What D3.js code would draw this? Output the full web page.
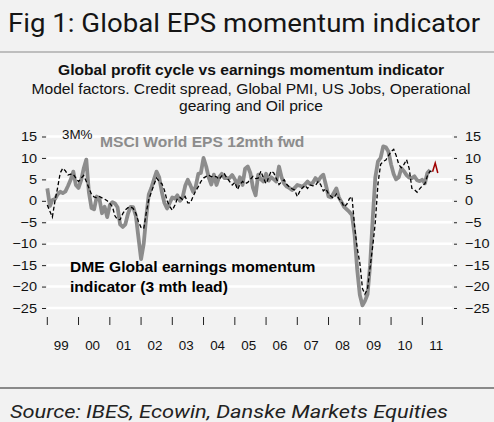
<!DOCTYPE html>
<html>
<head>
<meta charset="utf-8">
<script src="https://cdn.jsdelivr.net/npm/d3@7"></script>
<style>
  body { margin: 0; background: #f2f2f2; }
  svg { display: block; }
</style>
</head>
<body>
<div id="chart"></div>
<script>
// MSCI World EPS 12mth fwd, 3M% change, monthly from Jan 1999
const msciEps = [
  2.9, -1.2, 0.2, 0.4, 1.5, 2.1, 1.8, 2.2, 3.5, 4.9, 6.8, 3.7,
  3.0, 4.8, 7.5, 9.6, 2.0, -1.7, -2.0, 1.0, 0.5, -2.9, -1.4, -3.8,
  -1.0, -0.3, -0.6, -1.5, -5.5, -6.1, -5.5, -3.0, -1.4, -1.5, -3.5, -8.5,
  -13.6, -10.0, -4.0, 1.5, 3.0, 5.0, 6.8, 5.5, 2.0, -0.5, -1.8, -0.5,
  0.8, 0.5, 1.3, 0.0, 0.8, 3.5, 4.9, 3.6, 2.1, 3.3, 6.3, 6.5,
  10.0, 8.0, 5.5, 3.8, 6.1, 3.7, 5.5, 6.3, 5.3, 5.3, 5.3, 6.0,
  5.0, 3.7, 5.5, 3.7, 7.5, 8.0, 6.5, 3.0, 1.3, 6.1, 5.0, 4.5,
  6.3, 4.7, 5.5, 5.0, 4.5, 8.0, 5.5, 4.0, 3.3, 3.0, 2.5, 3.0,
  3.7, 3.5, 3.3, 3.8, 4.5, 3.9, 4.2, 5.3, 4.6, 5.5, 6.1, 3.7,
  1.0, 0.8, 1.8, 2.9, 0.8, -0.3, -1.4, -2.0, -2.6, -3.3, -8.0, -16.0,
  -22.0, -24.4, -23.4, -21.8, -15.0, -4.0, 5.5, 9.2, 10.0, 12.7, 12.5, 11.5,
  8.5, 6.2, 5.0, 5.5, 7.6, 6.9, 6.0, 5.4, 5.3, 5.7, 4.8, 4.6,
  4.9, 4.1, 6.5, 7.2
];

// DME Global earnings momentum indicator (3 mth lead), monthly from Jan 1999
const dmeIndicator = [
  -1.0, -2.5, -3.8, 0.0, 3.0, 6.5, 7.6, 7.0, 6.0, 6.2, 6.2, 5.3,
  4.5, 5.3, 5.9, 4.5, 3.0, 1.5, 0.9, 0.7, 1.0, 0.7, 0.4, 0.0,
  -0.6, -1.4, -3.5, -4.4, -4.4, -3.0, -2.1, -1.6, -1.4, -1.8, -2.9, -4.8,
  -6.2, -6.5, -3.0, 0.3, 2.0, 3.8, 5.3, 4.5, 4.0, 2.5, 0.0, -1.3,
  -2.2, -1.0, 0.5, 0.8, 0.3, 1.0, -0.5, -0.5, 1.0, 2.3, 3.3, 4.5,
  5.3, 5.7, 6.0, 5.6, 5.8, 5.6, 5.0, 5.8, 6.3, 5.3, 4.5, 3.7,
  4.3, 2.6, 3.8, 4.5, 4.0, 4.3, 5.0, 5.7, 5.2, 5.3, 6.9, 5.3,
  4.0, 5.5, 6.9, 6.5, 5.2, 3.8, 4.4, 4.9, 3.8, 3.2, 2.8, 2.5,
  1.0, 2.3, 3.0, 3.6, 2.9, 3.7, 3.5, 3.6, 4.5, 3.8, 2.3, 2.8,
  1.6, 1.0, 0.6, 1.6, 0.5, -0.2, -1.4, -0.8, 0.5, 1.0, -6.0, -11.0,
  -14.5, -20.5, -21.8, -20.5, -15.5, -10.5, -5.0, 4.0, 8.5, 9.2, 9.5, 10.5,
  11.5, 12.0, 10.6, 8.5, 7.7, 8.5, 9.6, 7.5, 2.9, 2.6, 2.0, 2.8,
  3.5, 4.0, 5.8, 6.9, 6.8
];

// latest indicator months (drawn in red), starting at month index 148
const dmeLatest = [6.8, 8.8, 6.5];
const latestStart = 148;

const yTicks = [15, 10, 5, 0, -5, -10, -15, -20, -25];
const yearLabels = ["99", "00", "01", "02", "03", "04", "05", "06", "07", "08", "09", "10", "11"];

const width = 494;
const height = 422;
const stretchX = 1.115; // the chart text in the original is a bit wide

const months = d3.timeMonth.range(new Date(1999, 0, 1), new Date(2011, 6, 2));

function widen(sel) {
  sel.each(function() {
    const w = this.getComputedTextLength();
    d3.select(this)
      .attr("textLength", w * stretchX)
      .attr("lengthAdjust", "spacingAndGlyphs");
  });
}

const svg = d3.select("#chart")
  .append("svg")
    .attr("width", width)
    .attr("height", height);

svg.append("rect")
  .attr("width", width)
  .attr("height", height)
  .attr("fill", "#f2f2f2");

// headline
svg.append("text")
  .attr("x", 8)
  .attr("y", 32)
  .attr("font-family", "Roboto, sans-serif")
  .attr("font-size", 25)
  .attr("fill", "#151515")
  .attr("textLength", 472)
  .attr("lengthAdjust", "spacingAndGlyphs")
  .text("Fig 1: Global EPS momentum indicator");

svg.append("line")
  .attr("x1", 0).attr("x2", width)
  .attr("y1", 52).attr("y2", 52)
  .attr("stroke", "#8a8a8a")
  .attr("stroke-width", 1.2);

const sub = svg.append("g")
  .attr("font-family", "Liberation Sans, Arial, sans-serif")
  .attr("font-size", 14)
  .attr("fill", "#111")
  .attr("text-anchor", "middle");

sub.append("text")
  .attr("x", 251).attr("y", 75)
  .attr("font-weight", "bold")
  .text("Global profit cycle vs earnings momentum indicator");
sub.append("text")
  .attr("x", 251).attr("y", 94)
  .text("Model factors. Credit spread, Global PMI, US Jobs, Operational");
sub.append("text")
  .attr("x", 251).attr("y", 111)
  .text("gearing and Oil price");
sub.selectAll("text").call(widen);

// scales
const x = d3.scaleTime()
  .domain([new Date(1999, 0, 1), new Date(2011, 0, 1)])
  .range([47.3, 422.3]);

const y = d3.scaleLinear()
  .domain([-25, 15])
  .range([308, 136.5]);

const gridLeft = 47;
const gridRight = 452;

// gridlines
svg.append("g")
  .selectAll("line")
  .data(yTicks)
  .join("line")
    .attr("x1", gridLeft)
    .attr("x2", gridRight)
    .attr("y1", d => y(d))
    .attr("y2", d => y(d))
    .attr("stroke", "#ffffff")
    .attr("stroke-width", 2.6);

// left and right axes
const leftAxis = d3.axisLeft(y).tickValues(yTicks).tickSize(4).tickPadding(4);
const rightAxis = d3.axisRight(y).tickValues(yTicks).tickSize(3).tickPadding(8);

const gl = svg.append("g")
  .attr("transform", `translate(${gridLeft - 1},0)`)
  .call(leftAxis);
const gr = svg.append("g")
  .attr("transform", `translate(${gridRight + 2},0)`)
  .call(rightAxis);

[gl, gr].forEach(g => {
  g.select(".domain").remove();
  g.selectAll(".tick line").attr("stroke", "#222").attr("stroke-width", 1);
  g.selectAll(".tick text")
    .attr("font-family", "Liberation Sans, Arial, sans-serif")
    .attr("font-size", 13)
    .attr("fill", "#111")
    .call(widen);
});
gl.selectAll(".tick text").attr("x", -9);

// x axis ticks at start of each year
const yearStarts = d3.timeYear.range(new Date(1999, 0, 1), new Date(2011, 0, 2));

svg.append("g")
  .selectAll("line")
  .data(yearStarts)
  .join("line")
    .attr("x1", d => x(d))
    .attr("x2", d => x(d))
    .attr("y1", 317)
    .attr("y2", 325)
    .attr("stroke", "#222")
    .attr("stroke-width", 1);

svg.append("g")
  .selectAll("text")
  .data(yearStarts)
  .join("text")
    .attr("x", d => x(d3.timeMonth.offset(d, 6)) - 1.5)
    .attr("y", 350)
    .attr("text-anchor", "middle")
    .attr("font-family", "Liberation Sans, Arial, sans-serif")
    .attr("font-size", 12)
    .attr("fill", "#111")
    .text((d, i) => yearLabels[i])
    .call(widen);

// series
const line = d3.line()
  .x(d => x(d[0]))
  .y(d => y(d[1]));

svg.append("path")
  .datum(msciEps.map((v, i) => [months[i], v]))
  .attr("d", line)
  .attr("fill", "none")
  .attr("stroke", "#8c8c8c")
  .attr("stroke-width", 3.8)
  .attr("stroke-linejoin", "round");

svg.append("path")
  .datum(dmeIndicator.map((v, i) => [months[i], v]))
  .attr("d", line)
  .attr("fill", "none")
  .attr("stroke", "#000")
  .attr("stroke-width", 1.3)
  .attr("stroke-dasharray", "4,2.5");

svg.append("path")
  .datum(dmeLatest.map((v, i) => [months[latestStart + i], v]))
  .attr("d", line)
  .attr("fill", "none")
  .attr("stroke", "#a00000")
  .attr("stroke-width", 1.5);

// annotations
svg.append("text")
  .attr("x", 62).attr("y", 139)
  .attr("font-family", "Liberation Sans, Arial, sans-serif")
  .attr("font-size", 12)
  .attr("fill", "#111")
  .text("3M%")
  .call(widen);

svg.append("text")
  .attr("x", 100).attr("y", 147)
  .attr("font-family", "Liberation Sans, Arial, sans-serif")
  .attr("font-size", 14)
  .attr("font-weight", "bold")
  .attr("fill", "#8c8c8c")
  .text("MSCI World EPS 12mth fwd")
  .call(widen);

const dme = svg.append("g")
  .attr("font-family", "Liberation Sans, Arial, sans-serif")
  .attr("font-size", 14)
  .attr("font-weight", "bold")
  .attr("fill", "#000");
dme.append("text").attr("x", 70).attr("y", 272).text("DME Global earnings momentum");
dme.append("text").attr("x", 70).attr("y", 292).text("indicator (3 mth lead)");
dme.selectAll("text").call(widen);

// footer
svg.append("line")
  .attr("x1", 0).attr("x2", width)
  .attr("y1", 388).attr("y2", 388)
  .attr("stroke", "#8a8a8a")
  .attr("stroke-width", 2.2);

svg.append("text")
  .attr("x", 10).attr("y", 418)
  .attr("font-family", "Roboto, sans-serif")
  .attr("font-style", "italic")
  .attr("font-size", 18)
  .attr("fill", "#222")
  .attr("textLength", 438)
  .attr("lengthAdjust", "spacingAndGlyphs")
  .text("Source: IBES, Ecowin, Danske Markets Equities");
</script>
</body>
</html>
